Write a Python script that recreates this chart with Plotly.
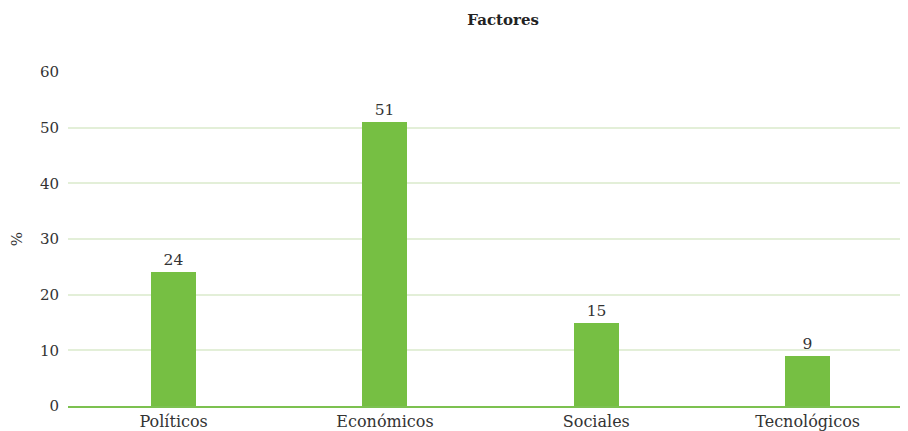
import plotly.graph_objects as go

categories = ["Políticos", "Económicos", "Sociales", "Tecnológicos"]
values = [24, 51, 15, 9]
y_ticks = [0, 10, 20, 30, 40, 50, 60]

FONT = "DejaVu Serif"
fig = go.Figure(go.Bar(
    x=categories, y=values, width=0.213,
    marker=dict(color="#76bf43", line=dict(width=0)),
    text=values, textposition="outside", cliponaxis=False,
    textfont=dict(family=FONT, size=15.5, color="#333333"),
))
fig.update_layout(
    width=900, height=423,
    margin=dict(l=60, r=0, t=64, b=25, autoexpand=False),
    paper_bgcolor="white", plot_bgcolor="white",
    font=dict(family=FONT, size=15, color="#333333"),
    title=dict(text="<b>Factores</b>", x=0.518, xref="paper", y=1 - 12 / 423, yref="container",
               yanchor="middle", xanchor="center",
               font=dict(family=FONT, size=15, color="#222222")),
    showlegend=False,
    bargap=0,
)
fig.update_xaxes(range=[-0.5, 3.475], showline=True, linecolor="#7cc150", linewidth=2,
                 ticks="", showgrid=False, automargin=False, tickfont=dict(size=16))
fig.update_yaxes(range=[0, 60], tickvals=y_ticks, showgrid=True, gridcolor="#e3efd8",
                 gridwidth=1.5, zeroline=False, ticks="", ticklabelstandoff=8, automargin=False,
                 title=dict(text="%", standoff=18, font=dict(size=15)))
fig.write_html("out.html")
